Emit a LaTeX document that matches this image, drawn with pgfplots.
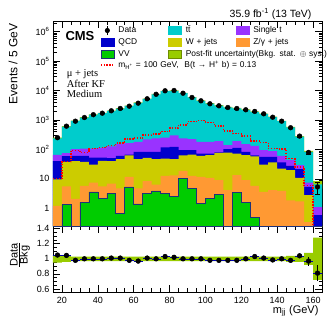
\documentclass[border=0pt]{standalone}
\usepackage{fontspec}
\setmainfont{Liberation Sans}
\newfontfamily\seriffont{Liberation Serif}
\usepackage{pgfplots}
\pgfplotsset{compat=1.18}
\usepackage{pgfplotstable}
\usepgfplotslibrary{fillbetween}

\definecolor{ttc}{RGB}{0,204,204}
\definecolor{stc}{RGB}{153,51,255}
\definecolor{qcdc}{RGB}{0,0,204}
\definecolor{wjc}{RGB}{204,204,0}
\definecolor{zjc}{RGB}{255,153,51}
\definecolor{vvc}{RGB}{0,204,0}
\definecolor{vvline}{RGB}{30,50,120}
\definecolor{bandc}{RGB}{153,204,0}

% cumulative stack tops per 5 GeV bin (left edge), signal, rel. uncertainty
\pgfplotstableread{
x c p b y o g s u
15 238 65 40 9.5 1.2 0.01 10 0.05
20 590 75 59 37.6 5.5 1.33 38 0.04
25 930 102 60 40 2.1 0.01 94 0.03
30 1210 107 60 37.6 5.8 1.6 80 0.03
35 1510 107 53 30.5 7.4 3.6 105 0.03
40 1700 113 53 41 5.5 2.1 115 0.03
45 2030 127 51 40 6.9 3.2 135 0.03
50 2440 150 60 47 4.7 0.66 165 0.03
55 3000 165 67 63 11.6 5.3 225 0.03
60 3830 180 82 47 4.7 1.4 245 0.03
65 5190 220 82 52 8.3 3.2 310 0.03
70 7450 235 82 47 6.4 3.9 330 0.03
75 9500 250 117 49 12.7 3.3 400 0.03
80 9800 302 123 47 13.2 2.6 530 0.03
85 8100 235 95 63 18.6 10.2 680 0.03
90 5800 222 94 67 12.6 4.7 880 0.03
95 4470 180 72 60 11.6 1.45 950 0.03
100 3600 180 72 63.5 10.8 2.1 830 0.03
105 3090 190 80 76 9.0 3.0 620 0.03
110 2700 139 102 78 4.1 0.01 420 0.03
115 2500 190 113 72 13.3 3.4 340 0.03
120 2220 150 82 63.5 9.0 1.6 285 0.03
125 1890 132 63 58 5.75 0.48 195 0.03
130 1600 94 56 30.6 3.6 0.01 170 0.03
135 1260 87 56 36 4.1 0.01 108 0.03
140 910 60 36 22.4 3.9 0.01 102 0.03
145 555 43 27.5 19.6 1.87 0.01 48 0.04
150 272 29 21.2 10.8 1.73 0.01 25 0.04
155 82 7.5 5.3 2.8 0.34 0.01 6 0.08
160 6.5 1.1 0.58 0.01 0.01 0.01 0.01 0.28
165 6.5 1.1 0.58 0.01 0.01 0.01 0.01 0.28
}\stack

\pgfplotstableread{
xc d de r re
17.5 250 16 1.05 0.03
22.5 616 25 1.045 0.025
27.5 910 30 0.98 0.02
32.5 1210 35 1.0 0.02
37.5 1510 39 1.0 0.02
42.5 1700 41 1.0 0.02
47.5 2050 45 1.01 0.02
52.5 2460 50 1.01 0.02
57.5 2940 54 0.98 0.02
62.5 3720 61 0.97 0.02
67.5 5240 72 1.01 0.015
72.5 7450 86 1.0 0.015
77.5 9800 99 1.03 0.015
82.5 10000 100 1.02 0.015
87.5 8100 90 1.0 0.015
92.5 5800 76 1.0 0.015
97.5 4470 67 1.0 0.02
102.5 3540 60 0.98 0.02
107.5 3030 55 0.98 0.02
112.5 2650 51 0.98 0.02
117.5 2450 49 0.98 0.02
122.5 2220 47 1.0 0.02
127.5 1950 44 1.03 0.02
132.5 1620 40 1.01 0.02
137.5 1240 35 0.985 0.02
142.5 910 30 1.0 0.02
147.5 545 23 0.98 0.025
152.5 283 17 1.04 0.03
157.5 79 9 0.97 0.06
162.5 5.3 2.3 0.81 0.11
}\data

\pgfplotsset{
  cmsax/.style={
    scale only axis, width=269pt, xmin=15, xmax=165,
    tick align=inside, major tick length=7pt, minor tick length=3.5pt,
    tick style={black, line width=0.5pt}, axis line style={line width=0.7pt},
    /pgf/number format/assume math mode=true,
    tick label style={font=\fontsize{9}{10}\selectfont},
    xtick={20,40,...,160}, minor x tick num=3,
  },
  boxleg/.style={legend image code/.code={\draw[##1, line width=0.4pt] (0pt,-4pt) rectangle (13pt,4pt);}},
  sigline/.style={red, line width=1.3pt, dash pattern=on 1.4pt off 1.4pt},
}

\begin{document}
\begin{tikzpicture}
\begin{axis}[cmsax, name=top, at={(0,0)}, anchor=south west, height=205pt,
  ymode=log, log origin=infty, ymin=0.25, ymax=2.3e6,
  xticklabels={},
  ytick={1,10,100,1000,10000,100000,1000000},
  yticklabels={1,10,10\textsuperscript{2},10\textsuperscript{3},10\textsuperscript{4},10\textsuperscript{5},10\textsuperscript{6}},
  minor ytick={0.3,0.4,0.5,0.6,0.7,0.8,0.9,2,3,4,5,6,7,8,9,20,30,40,50,60,70,80,90,200,300,400,500,600,700,800,900,2000,3000,4000,5000,6000,7000,8000,9000,20000,30000,40000,50000,60000,70000,80000,90000,200000,300000,400000,500000,600000,700000,800000,900000,2000000},
  legend columns=3,
  legend style={draw=none, fill=none, at={(0.1747,0.978)}, anchor=north west,
    font=\fontsize{8.4}{9}\selectfont, inner sep=0pt, row sep=3pt,
    cells={anchor=west},
    nodes={inner sep=0pt, text width=48pt, align=left, text height=6pt, text depth=1.5pt},
    /tikz/every odd column/.append style={column sep=4pt},
    /tikz/every even column/.append style={column sep=2pt}},
]
\addplot[const plot, fill=ttc, draw=none, forget plot] table[x=x, y=c] {\stack} \closedcycle;
\addplot[const plot, fill=stc, draw=none, forget plot] table[x=x, y=p] {\stack} \closedcycle;
\addplot[const plot, fill=qcdc, draw=none, forget plot] table[x=x, y=b] {\stack} \closedcycle;
\addplot[const plot, fill=wjc, draw=none, forget plot] table[x=x, y=y] {\stack} \closedcycle;
\addplot[const plot, fill=zjc, draw=none, forget plot] table[x=x, y=o] {\stack} \closedcycle;
\addplot[const plot, fill=vvc, draw=vvline, line width=0.6pt, forget plot] table[x=x, y=g] {\stack} \closedcycle;
\addplot[const plot, draw=none, name path=hi, forget plot] table[x=x, y expr=\thisrow{c}*(1+\thisrow{u})] {\stack};
\addplot[const plot, draw=none, name path=lo, forget plot] table[x=x, y expr=\thisrow{c}*(1-\thisrow{u})] {\stack};
\addplot[fill=bandc, draw=none, forget plot] fill between[of=hi and lo];
\addplot[const plot, sigline, forget plot] table[x=x, y=s] {\stack};
\addplot[only marks, mark=*, mark size=2.4pt, black, forget plot,
  error bars/.cd, y dir=both, y explicit] table[x=xc, y=d, y error=de] {\data};

\addlegendimage{legend image code/.code={\draw[black, line width=0.6pt] (6.5pt,-4.5pt) -- (6.5pt,4.5pt); \fill[black] (6.5pt,0pt) circle (2.3pt);}}
\addlegendentry{Data}
\addlegendimage{boxleg, fill=ttc, draw=ttc}
\addlegendentry{t\={t}}
\addlegendimage{boxleg, fill=stc, draw=stc}
\addlegendentry{Single t}
\addlegendimage{boxleg, fill=qcdc, draw=qcdc}
\addlegendentry{QCD}
\addlegendimage{boxleg, fill=wjc, draw=wjc}
\addlegendentry{W + jets}
\addlegendimage{boxleg, fill=zjc, draw=zjc}
\addlegendentry{Z/γ + jets}
\addlegendimage{boxleg, fill=vvc, draw=vvline}
\addlegendentry{VV}
\addlegendimage{boxleg, fill=bandc, draw={rgb,255:red,110;green,140;blue,0}}
\addlegendentry{\makebox[0pt][l]{Post-fit uncertainty(Bkg. stat. $\oplus$ sys.)}}
\addlegendimage{empty legend}
\addlegendentry{}
\addlegendimage{legend image code/.code={\draw[red, line width=1.3pt, dash pattern=on 1.4pt off 1.4pt] (0pt,0pt) -- (13pt,0pt);}}
\addlegendentry{\makebox[0pt][l]{m\textsubscript{H\textsuperscript{+}} = 100 GeV,\ \ B(t → H\textsuperscript{+} b) = 0.13}}
\end{axis}

\begin{axis}[cmsax, name=rat, at={(0,0)}, anchor=north west, height=66pt,
  ymin=0.56, ymax=1.435,
  ytick={0.6,0.8,1,1.2,1.4}, yticklabels={0.6,0.8,1,1.2,1.4},
  minor y tick num=3,
  xticklabel style={yshift=-2pt},
]
\addplot[const plot, draw=none, name path=rhi, forget plot] table[x=x, y expr=1+\thisrow{u}] {\stack};
\addplot[const plot, draw=none, name path=rlo, forget plot] table[x=x, y expr=1-\thisrow{u}] {\stack};
\addplot[fill=bandc, draw=none, forget plot] fill between[of=rhi and rlo];
\addplot[only marks, mark=none, blue!70!black, forget plot,
  error bars/.cd, x dir=both, x fixed=2.5, error bar style={line width=0.5pt}, error mark=none] table[x=xc, y=r] {\data};
\addplot[only marks, mark=*, mark size=2.4pt, black, forget plot,
  error bars/.cd, y dir=both, y explicit, error mark=none] table[x=xc, y=r, y error=re] {\data};
\end{axis}

\node[anchor=base east, font=\fontsize{10.5}{12}\selectfont] at (262pt,209pt) {35.9 fb\textsuperscript{-1} (13 TeV)};
\node[anchor=base west, font=\fontsize{13}{15}\selectfont\bfseries] at (9pt,186pt) {CMS};
\node[anchor=base west, font=\fontsize{10.5}{12}\seriffont] at (10.3pt,149.5pt) {μ + jets};
\node[anchor=base west, font=\fontsize{10.5}{12}\seriffont] at (10.3pt,139pt) {After KF};
\node[anchor=base west, font=\fontsize{10.5}{12}\seriffont] at (10.3pt,128.5pt) {Medium};
\node[rotate=90, anchor=base east, font=\fontsize{12}{14}\selectfont] at (-35.5pt,206pt) {Events / 5 GeV};
\node[rotate=90, inner sep=0pt, font=\fontsize{11}{13}\selectfont] at (-33pt,-29pt) {$\frac{\mbox{Data}}{\mbox{Bkg}}$};
\node[anchor=base east, font=\fontsize{11}{13}\selectfont] at (269pt,-87pt) {m\textsubscript{jj} (GeV)};

\pgfresetboundingbox
\useasboundingbox (-53pt,-96pt) rectangle (279pt,226pt);
\end{tikzpicture}
\end{document}
